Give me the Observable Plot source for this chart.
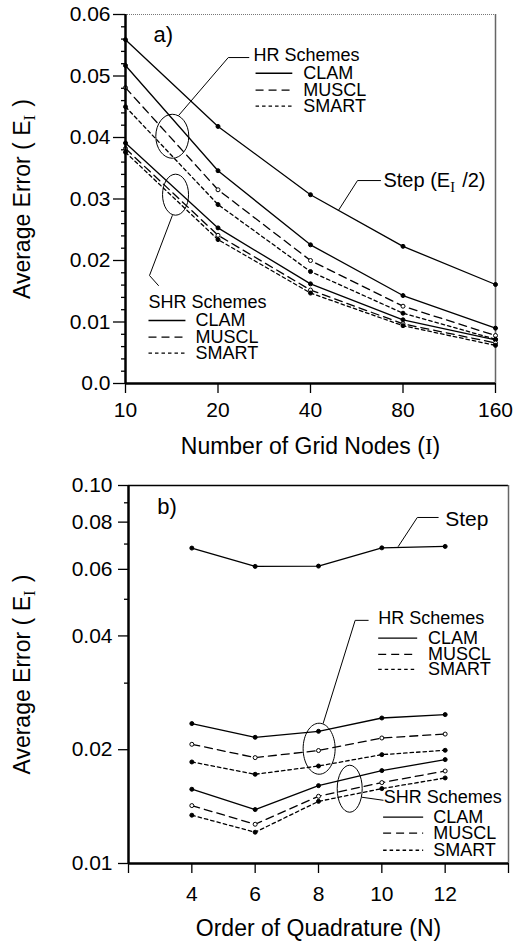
<!DOCTYPE html>
<html><head><meta charset="utf-8">
<script src="https://cdn.jsdelivr.net/npm/d3@7"></script>
<script src="https://cdn.jsdelivr.net/npm/@observablehq/plot@0.6"></script>
<style>
body{margin:0;background:#fff;width:513px;height:945px;overflow:hidden}
#a,#b{display:block;line-height:0}
svg{display:block}
</style></head><body><div id="a"></div><div id="b"></div>
<script>
// ---------- Panel a data ----------
const gridNodes = [10, 20, 40, 80, 160];
const stepA     = [0.0559, 0.0418, 0.0307, 0.0223, 0.0161]; // Step (E_I/2)
const hrClamA   = [0.0517, 0.0346, 0.02255, 0.0143, 0.0090];
const hrMusclA  = [0.0481, 0.0315, 0.0200, 0.01257, 0.0078];
const hrSmartA  = [0.0450, 0.0291, 0.0182, 0.01143, 0.0072];
const shrClamA  = [0.0391, 0.0253, 0.0162, 0.01036, 0.0071];
const shrMusclA = [0.0382, 0.0241, 0.0152, 0.0097, 0.0066];
const shrSmartA = [0.0376, 0.0234, 0.0147, 0.0094, 0.0062];
const xTicksA = [10, 20, 40, 80, 160];
const yTicksA = [0, 0.01, 0.02, 0.03, 0.04, 0.05, 0.06];
const yTickLabelsA = ["0.0", "0.01", "0.02", "0.03", "0.04", "0.05", "0.06"];
const yMinorA = [0.002,0.004,0.006,0.008,0.012,0.014,0.016,0.018,0.022,0.024,0.026,0.028,
                 0.032,0.034,0.036,0.038,0.042,0.044,0.046,0.048,0.052,0.054,0.056,0.058];

// ---------- Panel b data ----------
const quadOrder = [4, 6, 8, 10, 12];
const stepB     = [0.0683, 0.0611, 0.0612, 0.0684, 0.0690];
const hrClamB   = [0.02345, 0.02157, 0.02237, 0.02426, 0.02477];
const hrMusclB  = [0.02067, 0.01906, 0.0199, 0.02148, 0.0220];
const hrSmartB  = [0.01856, 0.01722, 0.01811, 0.01941, 0.01993];
const shrClamB  = [0.01572, 0.01389, 0.01607, 0.01761, 0.01883];
const shrMusclB = [0.01423, 0.0127, 0.01506, 0.01637, 0.01757];
const shrSmartB = [0.01342, 0.0121, 0.0146, 0.01578, 0.01684];
const xTicksB = [2, 4, 6, 8, 10, 12, 14];
const xTickLabelsB = ["", "4", "6", "8", "10", "12", ""];
const yTicksB = [0.01, 0.02, 0.04, 0.06, 0.08, 0.10];
const yTickLabelsB = ["0.01", "0.02", "0.04", "0.06", "0.08", "0.10"];
const yMinorB = [0.03, 0.05, 0.07, 0.09];

const schemes = ["CLAM", "MUSCL", "SMART"];

const FONT = "'Liberation Sans', Arial, Helvetica, sans-serif";
const dashOf = {Step: null, CLAM: null, MUSCL: "8,5", SMART: "3.5,3"};
const fillOf = {Step: "black", CLAM: "black", MUSCL: "white", SMART: "black"};
const TICK_FS = 21, TITLE_FS = 23, LEG_FS = 18;

function rows(xs, ys) { return xs.map((x, i) => ({x, y: ys[i]})); }

function ellipse(rx, ry) {
  const k = 0.5523;
  return {draw(c) {
    c.moveTo(rx, 0);
    c.bezierCurveTo(rx, ry * k, rx * k, ry, 0, ry);
    c.bezierCurveTo(-rx * k, ry, -rx, ry * k, -rx, 0);
    c.bezierCurveTo(-rx, -ry * k, -rx * k, -ry, 0, -ry);
    c.bezierCurveTo(rx * k, -ry, rx, -ry * k, rx, 0);
    c.closePath();
  }};
}

function seriesMarks(xs, list) {
  const m = [];
  for (const [ys, kind] of list) {
    const d = rows(xs, ys);
    m.push(Plot.line(d, {x: "x", y: "y", stroke: "black", strokeWidth: 1.3, strokeDasharray: dashOf[kind]}));
    m.push(Plot.dot(d, {x: "x", y: "y", r: 2, fill: fillOf[kind], stroke: "black", strokeWidth: 1}));
  }
  return m;
}

function legendMarks(title, tx, ty, x1, x2, xt, ysRows, fs) {
  const m = [Plot.text([title], {x: () => tx, y: () => ty, textAnchor: "start", fontSize: fs, fill: "black"})];
  schemes.forEach((s, i) => {
    m.push(Plot.link([0], {x1: () => x1, x2: () => x2, y1: () => ysRows[i], y2: () => ysRows[i],
      stroke: "black", strokeWidth: 1.3, strokeDasharray: dashOf[s]}));
    m.push(Plot.text([s], {x: () => xt, y: () => ysRows[i], textAnchor: "start", fontSize: fs, fill: "black"}));
  });
  return m;
}

function callout(pts) {
  return Plot.line(pts.map(([x, y]) => ({x, y})), {x: "x", y: "y", stroke: "black", strokeWidth: 1});
}
function ell(x, y, rx, ry) {
  return Plot.dot([{x, y}], {x: "x", y: "y", r: 3, symbol: ellipse(rx, ry), fill: "none", stroke: "black", strokeWidth: 1});
}

function richText(svg) {
  const ns = "http://www.w3.org/2000/svg";
  svg.querySelectorAll("text").forEach(t => {
    const s = t.textContent;
    if (!s.includes("_I") && !s.includes("{I}")) return;
    const parts = s.split(/(_I|\{I\})/);
    t.textContent = "";
    for (const p of parts) {
      if (p === "") continue;
      const ts = document.createElementNS(ns, "tspan");
      if (p === "_I") {
        ts.textContent = "I";
        ts.setAttribute("dy", "5");
        ts.setAttribute("font-size", "0.72em");
        ts.setAttribute("font-family", "'Liberation Serif', 'Times New Roman', serif");
        t.appendChild(ts);
        const back = document.createElementNS(ns, "tspan");
        back.setAttribute("dy", "-5");
        back.textContent = "\u200A";
        t.appendChild(back);
        continue;
      }
      if (p === "{I}") {
        ts.textContent = "I";
        ts.setAttribute("font-family", "'Liberation Serif', 'Times New Roman', serif");
      } else ts.textContent = p;
      t.appendChild(ts);
    }
  });
}

// ---------- Panel a ----------
const plotA = Plot.plot({
  width: 513, height: 470,
  marginLeft: 125, marginRight: 18, marginTop: 14, marginBottom: 87,
  style: {fontFamily: FONT, color: "black", background: "white"},
  x: {type: "log", base: 2, domain: [10, 160]},
  y: {domain: [0, 0.06]},
  marks: [
    Plot.ruleY([0.06], {stroke: "#777", strokeWidth: 1, strokeDasharray: "1,1"}),
    Plot.ruleX([160], {stroke: "#666", strokeWidth: 1.5}),
    Plot.axisY({ticks: yMinorA, tickSize: 4, tickFormat: () => "", label: null, strokeWidth: 1.3}),
    Plot.axisY({ticks: yTicksA, tickSize: 12, tickPadding: 3, label: null, fontSize: TICK_FS, strokeWidth: 1.3,
      tickFormat: d => yTickLabelsA[yTicksA.indexOf(d)]}),
    Plot.axisX({ticks: xTicksA, tickSize: 10, tickPadding: 9, label: null, fontSize: TICK_FS, strokeWidth: 1.3,
      tickFormat: d => String(d)}),
    ...seriesMarks(gridNodes, [[stepA, "Step"], [hrClamA, "CLAM"], [hrMusclA, "MUSCL"], [hrSmartA, "SMART"],
                               [shrClamA, "CLAM"], [shrMusclA, "MUSCL"], [shrSmartA, "SMART"]]),
    ell(14.2, 0.0402, 16.5, 22),
    ell(14.55, 0.0307, 13, 20.5),
    callout([[14.9, 0.0436], [21.6, 0.0530], [25.2, 0.0530]]),
    callout([[14.2, 0.0273], [11.97, 0.01756], [12.8, 0.01593]]),
    callout([[49.4, 0.0282], [56.9, 0.0330], [67.6, 0.0330]]),
    ...legendMarks("HR Schemes", 26.1, 0.0533, 26.5, 34.9, 37.9, [0.05045, 0.0477, 0.0451], LEG_FS),
    ...legendMarks("SHR Schemes", 11.88, 0.01317, 11.88, 15.67, 16.9, [0.01024, 0.00753, 0.00493], LEG_FS),
    Plot.text(["Step (E_I /2)"], {x: () => 69.1, y: () => 0.0330, textAnchor: "start", fontSize: 20, fill: "black"}),
    Plot.text(["a)"], {x: () => 12.33, y: () => 0.0566, textAnchor: "start", fontSize: 22, fill: "black"}),
    Plot.ruleX([10], {stroke: "black", strokeWidth: 2.5}),
    Plot.ruleY([0], {stroke: "black", strokeWidth: 2.5}),
    Plot.text(["Average Error ( E_I )"], {frameAnchor: "left", textAnchor: "middle", lineAnchor: "middle",
      dx: -103, rotate: -90, fontSize: TITLE_FS, fill: "black"}),
    Plot.text(["Number of Grid Nodes ({I})"], {frameAnchor: "bottom", textAnchor: "middle", lineAnchor: "middle",
      dy: 63, fontSize: TITLE_FS, fill: "black"})
  ]
});
richText(plotA);
document.getElementById("a").appendChild(plotA);

// ---------- Panel b ----------
const plotB = Plot.plot({
  width: 513, height: 475,
  marginLeft: 128, marginRight: 5, marginTop: 15, marginBottom: 82,
  style: {fontFamily: FONT, color: "black", background: "white"},
  x: {domain: [2, 14]},
  y: {type: "log", domain: [0.01, 0.10]},
  marks: [
    Plot.ruleY([0.10], {stroke: "black", strokeWidth: 1.3}),
    Plot.ruleX([14], {stroke: "#666", strokeWidth: 1.5}),
    Plot.axisY({ticks: yMinorB, tickSize: 4, tickFormat: () => "", label: null, strokeWidth: 1.3}),
    Plot.axisY({ticks: yTicksB, tickSize: 10, tickPadding: 6, label: null, fontSize: TICK_FS, strokeWidth: 1.3,
      tickFormat: d => yTickLabelsB[yTicksB.findIndex(v => Math.abs(v - d) < 1e-9)]}),
    Plot.axisX({ticks: xTicksB, tickSize: 10, tickPadding: 13, label: null, fontSize: TICK_FS, strokeWidth: 1.3,
      tickFormat: d => xTickLabelsB[xTicksB.indexOf(d)]}),
    ...seriesMarks(quadOrder, [[stepB, "Step"], [hrClamB, "CLAM"], [hrMusclB, "MUSCL"], [hrSmartB, "SMART"],
                               [shrClamB, "CLAM"], [shrMusclB, "MUSCL"], [shrSmartB, "SMART"]]),
    ell(8.02, 0.02012, 16, 25.5),
    ell(8.985, 0.01577, 12.5, 23.5),
    callout([[10.52, 0.0690], [11.12, 0.0823], [11.78, 0.0823]]),
    callout([[8.148, 0.02349], [9.158, 0.04398], [9.569, 0.04398]]),
    callout([[9.379, 0.01497], [10.04, 0.0147]]),
    ...legendMarks("HR Schemes", 9.885, 0.04452, 9.885, 11.116, 11.46, [0.03947, 0.03576, 0.03264], LEG_FS),
    ...legendMarks("SHR Schemes", 10.06, 0.01497, 10.04, 11.305, 11.62, [0.01326, 0.01203, 0.01084], LEG_FS),
    Plot.text(["Step"], {x: () => 12.0, y: () => 0.0815, textAnchor: "start", fontSize: 21, fill: "black"}),
    Plot.text(["b)"], {x: () => 2.906, y: () => 0.0880, textAnchor: "start", fontSize: 22, fill: "black"}),
    Plot.ruleX([2], {stroke: "black", strokeWidth: 2.5}),
    Plot.ruleY([0.01], {stroke: "black", strokeWidth: 2.5}),
    Plot.text(["Average Error ( E_I )"], {frameAnchor: "left", textAnchor: "middle", lineAnchor: "middle",
      dx: -106, rotate: -90, fontSize: TITLE_FS, fill: "black"}),
    Plot.text(["Order of Quadrature (N)"], {frameAnchor: "bottom", textAnchor: "middle", lineAnchor: "middle",
      dy: 65, fontSize: TITLE_FS, fill: "black"})
  ]
});
richText(plotB);
document.getElementById("b").appendChild(plotB);
</script></body></html>
